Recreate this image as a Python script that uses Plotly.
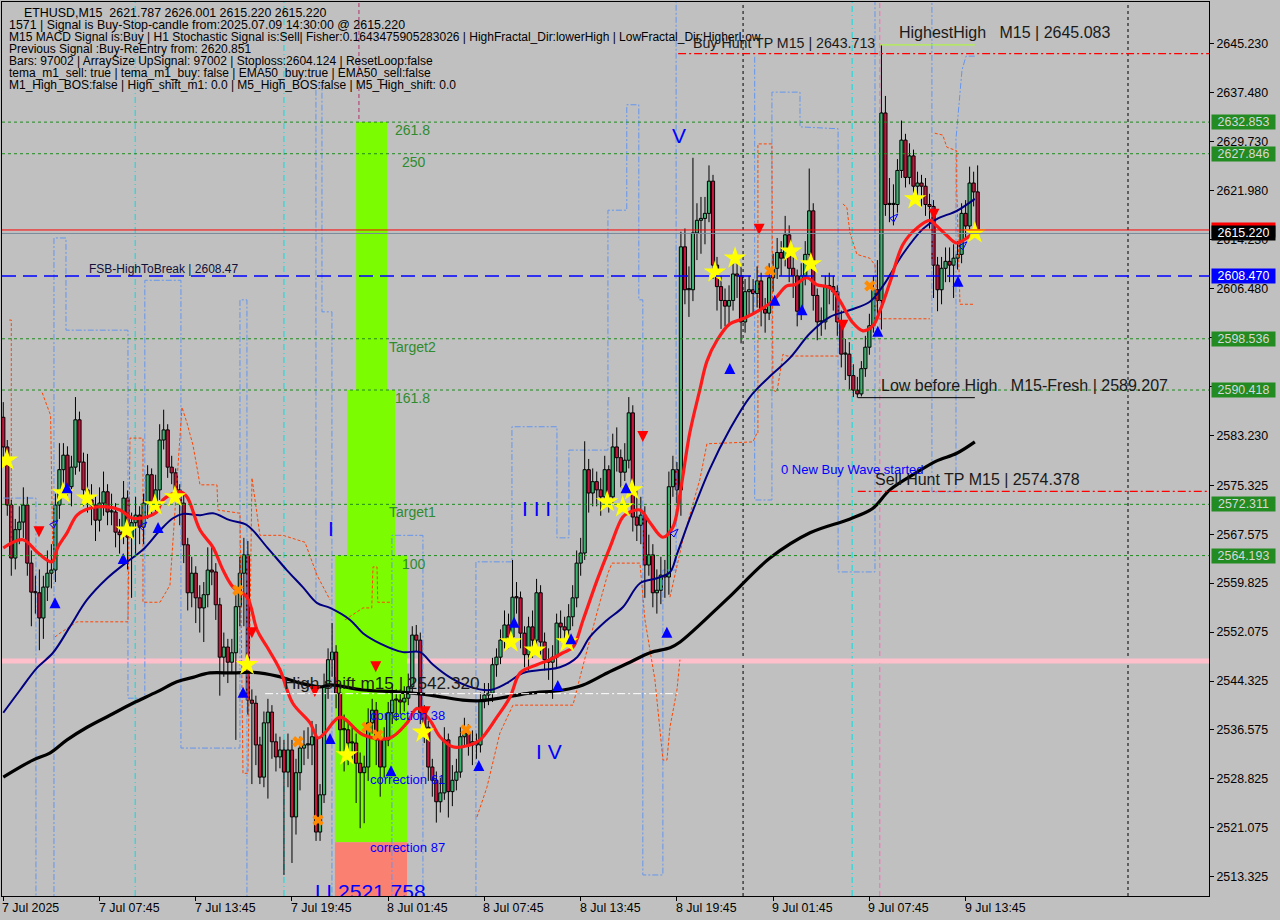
import plotly.graph_objects as go

# ---------------- data ----------------
closes = [
 2581.4,2572.2,2563.8,2568.3,2569.5,2572.2,2563.0,2558.4,2558.3,2554.3,
 2559.2,2561.4,2561.9,2572.2,2577.8,2580.1,2575.1,2578.2,2585.7,2579.0,
 2574.6,2573.0,2572.2,2569.8,2572.5,2574.3,2571.1,2571.1,2567.9,2567.5,
 2573.3,2567.1,2569.4,2570.6,2568.7,2572.5,2577.0,2572.5,2574.6,2582.5,
 2584.1,2578.2,2577.3,2574.6,2572.5,2565.9,2558.3,2561.4,2557.5,2555.9,
 2558.0,2561.9,2561.6,2556.4,2548.1,2549.7,2547.3,2548.8,2556.1,2561.4,
 2564.3,2541.3,2540.8,2534.2,2529.1,2537.7,2539.4,2534.7,2532.3,2533.4,
 2529.9,2533.4,2522.8,2529.8,2533.7,2534.2,2534.2,2535.5,2520.4,2526.3,
 2543.4,2547.7,2548.9,2542.4,2536.6,2536.6,2534.5,2534.5,2531.3,2529.8,
 2530.7,2537.7,2539.7,2535.0,2530.7,2535.0,2539.3,2541.3,2541.3,2541.0,
 2541.6,2543.4,2551.6,2550.8,2539.3,2537.0,2530.7,2528.6,2525.2,2526.6,
 2535.0,2526.8,2528.6,2529.9,2535.5,2536.1,2534.2,2534.7,2534.2,2541.3,
 2542.1,2542.4,2546.9,2548.1,2550.8,2553.2,2551.3,2557.6,2557.5,2551.9,
 2548.5,2552.9,2550.8,2558.3,2550.5,2547.7,2547.3,2548.1,2553.5,2552.9,
 2552.4,2554.5,2557.5,2563.0,2564.6,2577.8,2574.1,2575.9,2574.6,2573.5,
 2577.8,2573.5,2581.4,2579.7,2577.4,2579.3,2586.8,2570.3,2569.0,2570.6,
 2562.7,2564.3,2558.3,2558.7,2561.1,2560.8,2575.1,2577.8,2574.6,2613.1,
 2606.3,2606.3,2615.3,2617.3,2617.6,2618.4,2623.5,2610.2,2606.8,2604.6,
 2603.7,2604.6,2608.8,2608.5,2601.2,2606.0,2606.3,2605.7,2607.7,2603.2,
 2602.6,2608.2,2609.7,2612.2,2611.3,2615.0,2609.7,2608.5,2602.9,2608.5,
 2611.9,2618.8,2605.4,2601.2,2601.2,2606.8,2606.8,2606.0,2601.2,2596.1,
 2596.1,2592.7,2590.4,2589.8,2593.8,2597.2,2600.6,2606.3,2604.6,2634.3,
 2619.8,2619.8,2619.8,2625.2,2630.0,2624.1,2627.5,2622.7,2623.2,2622.7,
 2619.8,2619.5,2610.2,2606.3,2609.7,2610.8,2610.2,2611.3,2611.9,2618.4,
 2616.4,2623.2,2621.8,2615.22]
highs = [
 2588.5,2582.5,2573.0,2570.0,2572.0,2575.0,2573.5,2565.0,2561.0,2562.0,
 2561.0,2565.0,2566.0,2574.0,2582.0,2582.0,2581.5,2580.0,2589.3,2587.0,
 2580.5,2580.3,2575.5,2573.5,2575.0,2577.5,2575.5,2574.0,2572.5,2570.0,
 2576.0,2574.5,2571.0,2573.5,2572.0,2574.0,2578.5,2578.0,2577.0,2585.0,
 2587.3,2585.0,2580.0,2578.0,2575.5,2574.0,2567.0,2564.0,2562.5,2559.5,
 2560.0,2565.5,2565.5,2563.0,2557.5,2552.0,2551.0,2551.0,2558.0,2564.0,
 2567.0,2566.5,2543.0,2542.0,2535.5,2539.5,2541.5,2540.5,2536.0,2535.5,
 2535.0,2536.0,2535.0,2532.0,2535.5,2536.5,2537.0,2538.0,2537.5,2528.0,
 2545.5,2549.5,2553.5,2550.0,2544.0,2539.0,2538.0,2537.0,2536.0,2533.0,
 2532.5,2540.0,2541.5,2541.0,2536.0,2537.0,2541.0,2543.5,2543.0,2543.0,
 2543.5,2545.5,2553.0,2553.2,2552.0,2540.5,2538.0,2532.0,2530.0,2529.0,
 2537.0,2536.0,2531.0,2532.0,2537.0,2538.5,2537.5,2536.5,2536.0,2542.5,
 2544.0,2544.0,2548.0,2549.5,2552.5,2555.5,2555.0,2563.5,2560.0,2558.5,
 2553.0,2554.5,2555.5,2560.5,2559.5,2552.0,2549.5,2550.0,2555.0,2555.5,
 2554.5,2556.5,2559.5,2565.0,2567.0,2582.3,2579.5,2578.0,2577.5,2576.5,
 2580.0,2578.5,2583.5,2584.5,2581.0,2582.0,2589.3,2588.0,2574.5,2573.5,
 2572.0,2567.5,2566.0,2562.0,2564.0,2563.5,2577.5,2580.0,2579.0,2615.5,
 2616.0,2610.0,2627.2,2620.0,2621.0,2621.0,2626.0,2624.5,2611.5,2608.5,
 2606.5,2607.0,2611.0,2611.0,2610.0,2608.0,2608.5,2608.0,2610.0,2609.0,
 2605.0,2610.5,2612.0,2614.5,2614.0,2618.0,2616.5,2611.5,2609.5,2610.5,
 2614.0,2625.5,2620.0,2606.5,2603.5,2608.5,2609.0,2608.5,2607.0,2603.0,
 2598.5,2598.0,2594.5,2592.5,2595.0,2599.0,2602.5,2608.5,2611.0,2645.08,
 2637.0,2624.0,2623.0,2627.0,2633.1,2631.0,2629.5,2628.5,2625.0,2624.5,
 2624.0,2621.5,2620.5,2611.5,2611.5,2613.0,2613.0,2613.5,2614.0,2620.0,
 2620.5,2625.8,2625.0,2626.0]
lows = [
 2579.5,2570.5,2561.0,2562.0,2566.0,2567.0,2561.0,2553.0,2555.0,2549.2,
 2551.0,2557.0,2559.0,2560.0,2570.0,2574.0,2573.0,2572.0,2577.0,2577.5,
 2572.0,2571.0,2569.0,2566.5,2568.0,2570.5,2569.0,2569.0,2565.5,2564.5,
 2566.0,2562.0,2557.5,2564.5,2566.0,2566.0,2570.0,2570.5,2571.0,2573.0,
 2581.0,2576.5,2575.5,2573.0,2569.0,2563.0,2555.5,2556.0,2553.5,2552.0,
 2550.5,2556.0,2559.5,2554.0,2542.0,2545.0,2544.0,2545.5,2535.0,2553.0,
 2553.0,2539.0,2528.0,2531.0,2528.0,2527.5,2525.7,2532.0,2530.0,2530.5,
 2513.6,2527.5,2515.5,2520.0,2527.0,2531.0,2532.0,2531.0,2519.0,2519.0,
 2525.0,2541.5,2545.0,2540.0,2533.0,2530.0,2531.0,2532.0,2525.0,2521.0,
 2521.8,2528.5,2536.0,2531.0,2526.0,2529.0,2534.0,2537.5,2538.0,2539.0,
 2539.5,2540.5,2542.5,2549.0,2537.5,2534.5,2528.5,2526.0,2521.9,2523.5,
 2525.5,2522.7,2524.5,2527.0,2529.0,2534.0,2532.5,2531.0,2532.0,2533.0,
 2540.0,2540.5,2541.0,2545.0,2547.0,2549.5,2549.5,2550.5,2555.0,2549.5,
 2546.5,2546.0,2548.0,2549.5,2548.5,2546.0,2544.5,2541.5,2546.5,2550.5,
 2550.0,2550.5,2553.0,2556.0,2561.0,2563.5,2571.0,2572.0,2572.0,2570.5,
 2572.0,2571.0,2572.5,2577.5,2575.0,2576.0,2578.0,2568.0,2566.5,2566.0,
 2557.5,2561.0,2556.0,2555.0,2556.5,2557.5,2558.0,2573.5,2572.5,2570.5,
 2604.0,2602.0,2604.5,2611.0,2612.0,2613.5,2617.0,2608.0,2603.0,2600.1,
 2600.5,2601.0,2603.0,2605.0,2597.8,2599.5,2602.0,2602.5,2603.5,2600.5,
 2599.5,2601.5,2606.0,2608.0,2608.5,2610.0,2607.5,2605.0,2600.5,2601.5,
 2607.0,2610.5,2603.0,2598.3,2599.0,2600.0,2604.0,2603.0,2599.0,2594.0,
 2592.0,2590.5,2589.3,2589.2,2589.4,2592.5,2596.0,2599.5,2602.5,2600.0,
 2618.0,2617.0,2616.5,2618.5,2624.0,2622.5,2623.0,2620.5,2620.5,2619.5,
 2618.0,2616.0,2605.0,2602.9,2604.0,2607.5,2607.5,2605.0,2609.5,2610.5,
 2614.5,2615.5,2619.5,2615.22]
first_open = 2586.1
opens = [first_open] + closes[:-1]          # each bar opens at the previous close
bars = list(range(len(closes)))
highs = [max(h, o, c) for h, o, c in zip(highs, opens, closes)]
lows = [min(l, o, c) for l, o, c in zip(lows, opens, closes)]

# moving averages (bar index, price)
red_b = [0,4.9,8.7,12.1,13.6,15.9,18.4,21.6,25.9,29.1,32.3,35.8,38.3,39.8,44.1,45.8,49.1,52.3,54.8,57.3,
         60.8,63.3,65.8,69.0,72.2,76.5,78.5,80.2,84.0,89.7,96.4,100.7,103.2,106.4,108.9,112.1,116.4,118.9,
         123.1,126.4,128.9,133.1,136.3,139.6,142.1,144.6,148.1,151.3,154.5,156.3,158.8,161.3,164.5,167.0,
         168.8,171.2,173.7,175.5,178.0,181.2,184.5,188.7,191.9,195.4,197.4,200.4,202.9,206.2,208.7,211.7,
         214.4,216.9,218.6,221.1,224.4,227.9,231.1,232.8,235.3,237.8,240.3,242.3]
red_p = [2565.4,2566.7,2564.6,2563.2,2565.5,2567.8,2570.6,2571.7,2571.9,2571.4,2570.1,2570.3,2571.1,2573.0,
         2574.3,2573.5,2568.2,2565.5,2561.9,2559.2,2557.6,2552.4,2549.7,2546.1,2540.8,2537.7,2535.3,2536.1,
         2538.6,2535.8,2535.3,2537.7,2540.0,2538.1,2535.5,2533.9,2534.2,2535.0,2538.6,2541.8,2545.6,2546.9,
         2547.7,2548.8,2549.7,2554.0,2560.3,2565.5,2570.3,2571.1,2571.4,2569.4,2567.1,2568.7,2574.1,2583.6,
         2590.4,2595.0,2598.3,2600.9,2601.7,2603.1,2604.5,2606.9,2607.1,2608.2,2607.1,2606.6,2604.5,2601.2,
         2599.8,2600.6,2602.9,2607.4,2613.5,2616.1,2617.3,2616.4,2614.9,2613.7,2614.5,2615.6]
navy_b = [0,4.2,8.4,12.4,16.6,20.9,25.9,30.9,34.8,39.1,42.3,44.8,49.1,52.3,56.5,60.8,65.8,70.7,74.7,78.2,
          81.5,86.5,89.7,93.9,99.7,103.9,107.2,111.4,116.4,121.4,125.6,129.6,134.6,138.8,143.1,146.3,150.6,
          154.5,158.8,163.0,166.3,168.0,171.2,176.2,181.2,186.2,191.2,196.2,201.2,206.2,211.2,216.1,219.4,
          224.4,229.3,232.8,237.8,242.3]
navy_p = [2539.3,2542.9,2546.4,2548.8,2552.9,2557.2,2560.6,2563.2,2565.1,2568.2,2570.1,2570.8,2570.6,2570.9,
          2569.8,2569.0,2565.5,2561.9,2559.2,2556.7,2555.9,2554.0,2551.9,2550.3,2548.9,2548.9,2546.9,2544.9,
          2543.4,2542.9,2544.0,2545.6,2546.1,2546.5,2548.1,2551.3,2554.0,2556.0,2559.8,2560.6,2561.6,2564.4,
          2570.0,2577.9,2584.2,2589.3,2592.6,2595.5,2599.4,2602.0,2603.1,2604.4,2606.9,2612.0,2615.9,2617.5,
          2618.8,2620.7]
black_b = [0,7.4,11.6,15.9,20.9,26.6,32.3,38.3,43.3,47.3,51.5,57.3,62.3,68.3,74.0,79.0,81.5,89.7,98.2,106.4,
           114.6,118.9,125.6,131.3,139.6,144.6,150.6,156.3,161.3,166.3,168.8,180.5,191.2,201.2,211.2,216.9,
           221.1,227.9,232.8,237.8,242.3]
black_p = [2529.1,2531.8,2532.9,2535.0,2537.0,2538.9,2540.8,2542.6,2544.2,2544.9,2545.6,2545.6,2545.7,2545.1,
           2544.0,2543.4,2543.7,2542.9,2542.6,2542.1,2541.3,2541.2,2541.8,2542.4,2542.9,2543.7,2545.6,2547.3,
           2548.8,2549.6,2550.5,2557.3,2563.8,2567.8,2570.0,2571.7,2574.6,2577.4,2579.2,2580.4,2582.2]

# stepped channel lines (bar, price)
blue_paths = [
 [(0,2573.3),(8.15,2573.3),(8.15,2509)],
 [(12.64,2509),(12.64,2614.5),(15.64,2614.5),(15.64,2599.9),(31.1,2599.9),(31.1,2541.6),(35.3,2541.6),
  (35.3,2607.8),(44.31,2607.8),(44.31,2533.7),(59.03,2533.7),(59.03,2604.7),(60.77,2604.7),(60.77,2509)],
 [(77.98,2557.2),(77.98,2638.7),(79.48,2638.7),(79.48,2602.8),(81.97,2602.8),(81.97,2509)],
 [(96.93,2509),(96.93,2567.4),(104.66,2567.4),(104.66,2509)],
 [(117.88,2509),(117.88,2563.2),(126.86,2563.2),(126.86,2584.6),(138.08,2584.6),(138.08,2567.0),
  (141.07,2567.0),(141.07,2580.9),(150.8,2580.9),(150.8,2618.9),(155.5,2618.9),(155.5,2635.6),
  (158.5,2635.6),(158.5,2604.7),(159.5,2604.7),(159.5,2513.6),(164.5,2513.6),(164.5,2561.9),
  (167.8,2561.9),(167.8,2653)],
 [(187.4,2643.2),(187.4,2573.0),(191.7,2573.0),(191.7,2637.6),(198.7,2637.6),(198.7,2632.1),
  (208.2,2631.8),(208.2,2561.6),(217.4,2561.6),(217.4,2653)],
 [(231.6,2653),(231.6,2574.3),(237.6,2574.3),(237.6,2630.2),(239.1,2641.1),(240.1,2643.3),(242.3,2643.3)],
]
orange_paths = [
 [(1.5,2601.5),(2.0,2601.5),(2.0,2566.0)],
 [(9.7,2590.0),(11.8,2586.4),(12.3,2566.0)],
 [(12.89,2551.3),(14.14,2551.9),(18.38,2553.7),(31.1,2553.7),(31.6,2582.8),(34.84,2582.8),(34.84,2556.8),
  (39.08,2556.8),(41.57,2559.5),(44.56,2587.7),(45.81,2585.2),(47.3,2581.7),(48.55,2577.3),(49.05,2575.4),
  (53.29,2575.4),(53.54,2571.4),(59.03,2570.9),(59.78,2529.7),(61.02,2529.7),(62.02,2576.5),(64.01,2567.4),
  (69.75,2567.4),(75.24,2566.3),(78.23,2561.1),(81.47,2557.2)],
 [(85.2,2554.0),(89.7,2555.9),(91.9,2555.9),(92.2,2562.4),(93.2,2562.4),(93.4,2556.8),(96.4,2556.8)],
 [(118.13,2522.8),(120.62,2527.5),(123.86,2536.1),(127.1,2540.5),(142.07,2540.5),(142.57,2541.8),
  (144.31,2546.1),(148.05,2555.1),(150.8,2561.4),(151.8,2563.0),(158.78,2563.0),(160.03,2554.0),
  (162.52,2544.5),(164.52,2531.8),(165.51,2531.8),(166.26,2537.0),(168.01,2542.9),(168.76,2547.7)],
 [(166.26,2557.6),(169.5,2566.7),(172.0,2572.4),(173.74,2576.3),(175.49,2581.9),(186.96,2582.2),(187.96,2583.6)],
 [(188.2,2583.6),(188.2,2629.4),(191.7,2629.4),(191.7,2627.8),(191.95,2590.4),(192.95,2590.1),(194.45,2596.1),
  (195.44,2595.8),(208.66,2595.8)],
 [(209.4,2619.9),(210.4,2619.3),(211.15,2615.3),(212.9,2611.9),(216.1,2611.3),(217.4,2610.2),(218.1,2601.7),
  (231.1,2601.7)],
 [(232.3,2631.1),(234.3,2630.8),(235.3,2628.9),(237.8,2628.3),(237.8,2622.1),(238.6,2604.0),(242.3,2604.0)],
]

# signal markers (bar, price)
star_b = [0.9,14.9,20.9,30.8,37.8,42.8,60.8,85.7,104.7,126.6,132.6,140.6,150.6,154.5,156.8,177.5,182.5,196.4,201.4,227.4,242.3]
star_p = [2579.3,2574.1,2573.3,2568.2,2572.2,2573.5,2546.9,2532.6,2536.2,2550.5,2549.2,2550.5,2572.7,2571.9,2574.6,2609.1,2611.3,2612.4,2610.4,2620.7,2615.3]
cross_b = [58.5,73.5,78.5,90.7,93.4,115.4,191.2,216.1]
cross_p = [2558.7,2534.7,2522.3,2537.0,2535.8,2536.6,2609.3,2606.9]
up_b = [12.9,15.9,29.9,38.6,59.8,81.5,96.7,118.6,127.4,138.3,141.6,155.3,165.5,181.2,192.4,199.2,218.1,238.1]
up_p = [2557.6,2575.8,2564.6,2569.5,2543.4,2536.1,2531.0,2531.8,2554.5,2544.5,2551.9,2575.8,2552.9,2594.7,2605.5,2604.0,2600.6,2608.5]
dn_b = [8.9,62.0,77.7,92.9,105.2,159.5,188.5,209.4,232.1]
dn_p = [2567.1,2551.1,2541.8,2545.7,2538.6,2582.2,2615.0,2599.8,2617.4]
hollow_b = [13.6,35.8,168.3,223.1,240.3]
hollow_p = [2569.8,2569.5,2568.4,2618.3,2613.9]

# levels
fib_levels = [2632.853, 2627.846, 2598.536, 2590.418, 2572.311, 2564.193]
fib_names = ["261.8", "250", "Target2", "161.8", "Target1", "100"]
bid_price = 2615.220
ask_price = 2615.770
fsb_price = 2608.470
pink_price = 2547.49
buy_tp = 2643.713
sell_tp = 2574.378
highest_high = 2645.083
low_before_high = 2589.207
high_shift = 2542.320
zone_bottom = 2518.8
wave_label_price = 2510.6   # the label sits on the lower edge and is cut there

y_tickvals = [2513.325,2521.075,2528.825,2536.575,2544.325,2552.075,2559.825,2567.575,2575.325,
              2583.230,2590.980,2598.730,2606.480,2614.230,2621.980,2629.730,2637.480,2645.230]
y_hidden = [2590.980, 2598.730]            # covered by level boxes in the reference
x_tickbars = [0,24,48,72,96,120,144,168,192,216,240]
x_ticklabels = ["7 Jul 2025","7 Jul 07:45","7 Jul 13:45","7 Jul 19:45","8 Jul 01:45","8 Jul 07:45",
                "8 Jul 13:45","8 Jul 19:45","9 Jul 01:45","9 Jul 07:45","9 Jul 13:45"]

header_lines = [
 "ETHUSD,M15  2621.787 2626.001 2615.220 2615.220",
 "1571 | Signal is Buy-Stop-candle from:2025.07.09 14:30:00 @ 2615.220",
 "M15 MACD Signal is:Buy | H1 Stochastic Signal is:Sell| Fisher:0.1643475905283026 | HighFractal_Dir:lowerHigh | LowFractal_Dir:HigherLow",
 "Previous Signal :Buy-ReEntry from: 2620.851",
 "Bars: 97002 | ArraySize UpSignal: 97002 | Stoploss:2604.124 | ResetLoop:false",
 "tema_m1_sell: true | tema_m1_buy: false | EMA50_buy:true | EMA50_sell:false",
 "M1_High_BOS:false | High_shift_m1: 0.0 | M5_High_BOS:false | M5_High_shift: 0.0",
]

# ---------------- figure ----------------
FONT = "Liberation Sans, Arial, sans-serif"
BG = "#c0c0c0"
XR = [-0.32, 300.7]
YR = [2510.27, 2651.88]

fig = go.Figure()

def path_xy(paths):
    xs, ys = [], []
    for p in paths:
        for b, v in p:
            xs.append(b); ys.append(v)
        xs.append(None); ys.append(None)
    return xs, ys

bx, by = path_xy(blue_paths)
fig.add_trace(go.Scatter(x=bx, y=by, mode="lines", line=dict(color="#6495ed", width=1, dash="6px,2px,2px,2px"),
                         hoverinfo="skip", showlegend=False))
ox, oy = path_xy(orange_paths)
fig.add_trace(go.Scatter(x=ox, y=oy, mode="lines", line=dict(color="#ff4500", width=1, dash="3px,2px"),
                         hoverinfo="skip", showlegend=False))

# candles: wicks (above and below the body) then bodies
wx, wy = [], []
for b, o, h, l, c in zip(bars, opens, highs, lows, closes):
    top, bot = max(o, c), min(o, c)
    wx += [b, b, None, b, b, None]
    wy += [h, top, None, bot, l, None]
fig.add_trace(go.Scatter(x=wx, y=wy, mode="lines", line=dict(color="black", width=1),
                         hoverinfo="skip", showlegend=False))
body_col = ["#3cb371" if c >= o else "#c8143c" for o, c in zip(opens, closes)]
fig.add_trace(go.Bar(x=bars, base=[min(o, c) for o, c in zip(opens, closes)],
                     y=[max(abs(c - o), 0.18) for o, c in zip(opens, closes)],
                     width=0.8, marker=dict(color=body_col, line=dict(color="black", width=1)),
                     hoverinfo="skip", showlegend=False))

fig.add_trace(go.Scatter(x=black_b, y=black_p, mode="lines", line=dict(color="black", width=3.2, shape="spline"),
                         hoverinfo="skip", showlegend=False))
fig.add_trace(go.Scatter(x=navy_b, y=navy_p, mode="lines", line=dict(color="#000080", width=2, shape="spline"),
                         hoverinfo="skip", showlegend=False))
fig.add_trace(go.Scatter(x=red_b, y=red_p, mode="lines", line=dict(color="#ff1a1a", width=3.2, shape="spline"),
                         hoverinfo="skip", showlegend=False))

fig.add_trace(go.Scatter(x=cross_b, y=cross_p, mode="markers",
                         marker=dict(symbol="x", size=10, color="#ff8c00", line=dict(width=0)),
                         hoverinfo="skip", showlegend=False))
fig.add_trace(go.Scatter(x=star_b, y=star_p, mode="markers",
                         marker=dict(symbol="star", size=17, color="#ffff00", line=dict(width=0)),
                         hoverinfo="skip", showlegend=False))
fig.add_trace(go.Scatter(x=up_b, y=up_p, mode="markers",
                         marker=dict(symbol="arrow-up", size=11, color="#0000ff", line=dict(width=0)),
                         hoverinfo="skip", showlegend=False))
fig.add_trace(go.Scatter(x=dn_b, y=dn_p, mode="markers",
                         marker=dict(symbol="arrow-down", size=11, color="#ff0000", line=dict(width=0)),
                         hoverinfo="skip", showlegend=False))
fig.add_trace(go.Scatter(x=hollow_b, y=hollow_p, mode="markers",
                         marker=dict(symbol="arrow-open", angle=45, size=9, color="#0000ff", line=dict(width=1, color="#2a2aff")),
                         hoverinfo="skip", showlegend=False))

# wave label cut by the bottom edge of the plot (text of a scatter trace is clipped to the plot area)
fig.add_trace(go.Scatter(x=[91.5], y=[wave_label_price], mode="text", text=["I I 2521.758"],
                         textposition="middle center",
                         textfont=dict(family=FONT, size=21, color="#0000ff"), cliponaxis=True,
                         hoverinfo="skip", showlegend=False))

shapes = []
# Fibonacci zone rectangles
shapes.append(dict(type="rect", xref="x", yref="y", x0=88.0, x1=95.7, y0=fib_levels[3], y1=fib_levels[0],
                   fillcolor="#7cfc00", line=dict(width=0), layer="below"))
shapes.append(dict(type="rect", xref="x", yref="y", x0=85.8, x1=97.7, y0=fib_levels[5], y1=fib_levels[3],
                   fillcolor="#7cfc00", line=dict(width=0), layer="below"))
shapes.append(dict(type="rect", xref="x", yref="y", x0=82.7, x1=100.7, y0=zone_bottom, y1=fib_levels[5],
                   fillcolor="#7cfc00", line=dict(width=0), layer="below"))
shapes.append(dict(type="rect", xref="x", yref="y", x0=82.7, x1=100.7, y0=2505, y1=zone_bottom,
                   fillcolor="#fa8072", line=dict(width=0), layer="below"))

# vertical lines
for xb, col, dash in [(184.5, "black", "3px,3px"), (280.5, "black", "3px,3px"),
                      (32.9, "#00e0e0", "6px,3px,1px,3px"), (70.0, "#00e0e0", "6px,3px,1px,3px"),
                      (211.7, "#00e0e0", "6px,3px,1px,3px"), (218.6, "#ff69b4", "5px,3px"),
                      (88.7, "#b0306a", "4px,3px")]:
    shapes.append(dict(type="line", xref="x", yref="paper", x0=xb, x1=xb, y0=0, y1=1,
                       line=dict(color=col, width=1, dash=dash), layer="below"))

# horizontal levels
shapes.append(dict(type="line", xref="paper", yref="y", x0=0, x1=1, y0=pink_price, y1=pink_price,
                   line=dict(color="#ffc0cb", width=5), layer="below"))
for lv in fib_levels:
    shapes.append(dict(type="line", xref="paper", yref="y", x0=0, x1=1, y0=lv, y1=lv,
                       line=dict(color="#1e8c1e", width=1, dash="3px,3px")))
shapes.append(dict(type="line", xref="paper", yref="y", x0=0, x1=1, y0=ask_price, y1=ask_price,
                   line=dict(color="#ff0000", width=1)))
shapes.append(dict(type="line", xref="paper", yref="y", x0=0, x1=1, y0=bid_price, y1=bid_price,
                   line=dict(color="#778899", width=1)))
shapes.append(dict(type="line", xref="paper", yref="y", x0=0, x1=1, y0=fsb_price, y1=fsb_price,
                   line=dict(color="#0000ff", width=1.6, dash="14px,7px")))
shapes.append(dict(type="line", xref="x", yref="y", x0=168.3, x1=XR[1], y0=buy_tp, y1=buy_tp,
                   line=dict(color="#ff0000", width=1.2, dash="8px,3px,2px,3px")))
shapes.append(dict(type="line", xref="x", yref="y", x0=213.1, x1=XR[1], y0=sell_tp, y1=sell_tp,
                   line=dict(color="#ff0000", width=1.2, dash="8px,3px,2px,3px")))
shapes.append(dict(type="line", xref="x", yref="y", x0=218.6, x1=242.3, y0=highest_high, y1=highest_high,
                   line=dict(color="#adff2f", width=1)))
shapes.append(dict(type="line", xref="x", yref="y", x0=213.1, x1=242.3, y0=low_before_high, y1=low_before_high,
                   line=dict(color="black", width=1)))
shapes.append(dict(type="line", xref="x", yref="y", x0=65.3, x1=168.8, y0=high_shift, y1=high_shift,
                   line=dict(color="#ffffff", width=1, dash="8px,3px,2px,3px")))

ann = []
# header text
for k, t in enumerate(header_lines):
    ann.append(dict(xref="paper", yref="paper", x=0, y=1, xanchor="left", yanchor="middle",
                    xshift=(20 if k == 0 else 5), yshift=-(11 + 12 * k), text=t, showarrow=False,
                    font=dict(family=FONT, size=(12.4 if k in (0, 1) else 12.0), color="black")))
# fib labels
fib_lab_x = [97.3, 99.0, 95.8, 97.3, 95.8, 99.0]
for lv, nm, xb in zip(fib_levels, fib_names, fib_lab_x):
    ann.append(dict(xref="x", yref="y", x=xb, y=lv, xanchor="left", yanchor="middle", yshift=-8,
                    text=nm, showarrow=False, font=dict(family=FONT, size=14, color="#2e8b2e")))
# big text labels
big = [(171.5, buy_tp, "Buy Hunt TP M15 | 2643.713", 11, 14.2),
       (223.0, highest_high, "HighestHigh   M15 | 2645.083", 12, 16),
       (217.0, sell_tp, "Sell Hunt TP M15 | 2574.378", 12, 16),
       (218.4, low_before_high, "Low before High   M15-Fresh | 2589.207", 12, 16),
       (69.6, high_shift, "High shift m15 | 2542.320", 11, 17.2)]
for xb, yp, t, ys, fs in big:
    ann.append(dict(xref="x", yref="y", x=xb, y=yp, xanchor="left", yanchor="middle", yshift=ys,
                    text=t, showarrow=False, font=dict(family=FONT, size=fs, color="#1a1a1a")))
ann.append(dict(xref="x", yref="y", x=21.0, y=fsb_price, xanchor="left", yanchor="middle", yshift=7,
                text="FSB-HighToBreak | 2608.47", showarrow=False, font=dict(family=FONT, size=12, color="#10103a")))
ann.append(dict(xref="x", yref="y", x=193.4, y=2577.9, xanchor="left", yanchor="middle",
                text="0 New Buy Wave started", showarrow=False, font=dict(family=FONT, size=13, color="#0000ff")))
for xb, yp, t in [(91.0, 2538.8, "correction 38"), (91.0, 2528.8, "correction 61"), (91.0, 2517.9, "correction 87")]:
    ann.append(dict(xref="x", yref="y", x=xb, y=yp, xanchor="left", yanchor="middle",
                    text=t, showarrow=False, font=dict(family=FONT, size=13, color="#0000ff")))
for xb, yp, t in [(81.8, 2568.5, "I"), (133.0, 2571.7, "I I I"), (136.2, 2533.2, "I V"), (168.6, 2630.7, "V")]:
    ann.append(dict(xref="x", yref="y", x=xb, y=yp, xanchor="center", yanchor="middle",
                    text=t, showarrow=False, font=dict(family=FONT, size=21, color="#0000ff")))
# right axis price boxes
boxes = [(fib_levels[0], "#228b22", "#d8d8d8", True), (fib_levels[1], "#228b22", "#d8d8d8", True),
         (fib_levels[2], "#228b22", "#d8d8d8", True), (fib_levels[3], "#228b22", "#d8d8d8", True),
         (fib_levels[4], "#228b22", "#d8d8d8", True), (fib_levels[5], "#228b22", "#d8d8d8", True),
         (fsb_price, "#0000ff", "#ffffff", True), (ask_price, "#ff0000", "#ff0000", False),
         (bid_price, "#000000", "#ffffff", True)]
for yp, bg, fc, show in boxes:
    ann.append(dict(xref="paper", yref="y", x=1, y=yp, xanchor="left", yanchor="middle", xshift=2,
                    text=f"{yp:.3f}" if show else "", showarrow=False, bgcolor=bg, width=61, height=12,
                    borderpad=1, font=dict(family=FONT, size=12.4, color=fc)))
# date labels, left-aligned at their ticks as in the reference
for b, t in zip(x_tickbars, x_ticklabels):
    ann.append(dict(xref="x", yref="paper", x=b, y=0, xanchor="left", yanchor="top", xshift=-3, yshift=-3,
                    text=t, showarrow=False, font=dict(family=FONT, size=12.4, color="black")))

fig.update_layout(
    width=1280, height=920, margin=dict(l=2, r=71, t=2, b=24),
    paper_bgcolor=BG, plot_bgcolor=BG, showlegend=False, hovermode=False,
    shapes=shapes, annotations=ann, barmode="overlay",
    xaxis=dict(range=XR, showgrid=False, zeroline=False,
               tickvals=x_tickbars, ticktext=[""] * len(x_tickbars), ticks="outside", ticklen=4,
               tickcolor="black", showline=True, linecolor="black", linewidth=1, mirror=True),
    yaxis=dict(range=YR, side="right", showgrid=False, zeroline=False,
               tickvals=y_tickvals, ticktext=["" if v in y_hidden else f"{v:.3f}" for v in y_tickvals],
               ticks="outside", ticklen=4,
               tickcolor="black", showline=True, linecolor="black", linewidth=1, mirror=True,
               tickfont=dict(family=FONT, size=12.4, color="black")),
)

fig.write_html("out.html", config={"displayModeBar": False},
               post_script="document.body.style.margin='0px';document.body.style.overflow='hidden';")
